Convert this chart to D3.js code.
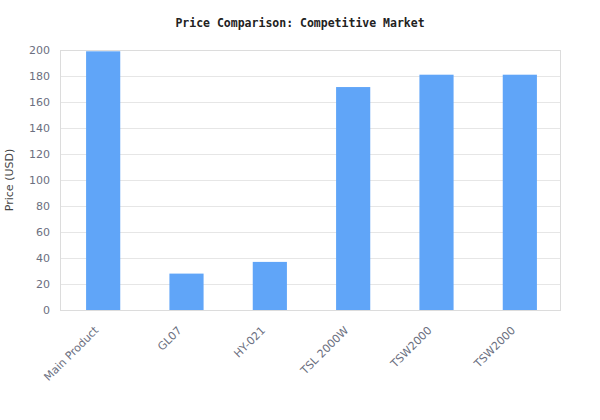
<!DOCTYPE html>
<html>
<head>
<meta charset="utf-8">
<script src="https://cdn.jsdelivr.net/npm/d3@7"></script>
<style>
  body { margin: 0; background: #fff; }
  svg { display: block; }
  .tick text { font-family: "DejaVu Sans", sans-serif; font-size: 11px; fill: #6b6f80; }
</style>
</head>
<body>
<div id="chart"></div>
<script>
var categories = ['Main Product', 'GL07', 'HY-021', 'TSL 2000W', 'TSW2000', 'TSW2000 '];
var labels = ['Main Product', 'GL07', 'HY-021', 'TSL 2000W', 'TSW2000', 'TSW2000'];
var prices = [199, 28, 37, 171.5, 181, 181];
var yTicks = [0, 20, 40, 60, 80, 100, 120, 140, 160, 180, 200];

var width = 600, height = 420;
var plot = { left: 60, right: 560, top: 50, bottom: 310 };

var svg = d3.select('#chart').append('svg')
  .attr('width', width)
  .attr('height', height);

// scales
var x = d3.scaleBand().domain(categories)
  .range([plot.left + 1.5, plot.right + 1.5])
  .paddingInner(0.59).paddingOuter(0.295);
var y = d3.scaleLinear().domain([0, 200]).range([plot.bottom, plot.top]);

// horizontal grid lines
svg.append('g')
  .attr('transform', 'translate(' + plot.left + ',0)')
  .call(d3.axisLeft(y).tickValues(yTicks).tickSize(-(plot.right - plot.left)).tickFormat(''))
  .call(function (g) { g.select('.domain').remove(); })
  .selectAll('line').attr('stroke', '#e6e6e6');

// frame
svg.append('rect')
  .attr('x', plot.left + 0.5).attr('y', plot.top + 0.5)
  .attr('width', plot.right - plot.left).attr('height', plot.bottom - plot.top)
  .attr('fill', 'none').attr('stroke', '#dcdcdc');

// bars
svg.selectAll('.bar')
  .data(prices)
  .enter().append('rect')
  .attr('class', 'bar')
  .attr('x', function (d, i) { return x(categories[i]); })
  .attr('y', function (d) { return y(d); })
  .attr('width', x.bandwidth())
  .attr('height', function (d) { return plot.bottom - y(d); })
  .attr('fill', '#60a5f8');

// y axis labels
svg.append('g')
  .attr('transform', 'translate(' + plot.left + ',0)')
  .call(d3.axisLeft(y).tickValues(yTicks).tickSize(0).tickPadding(10))
  .call(function (g) { g.select('.domain').remove(); });

// x axis labels, rotated 45deg
var xAxis = svg.append('g')
  .attr('transform', 'translate(0,' + plot.bottom + ')')
  .call(d3.axisBottom(x).tickSize(0).tickFormat(function (d, i) { return labels[i]; }))
  .call(function (g) { g.select('.domain').remove(); });
xAxis.selectAll('.tick text')
  .attr('text-anchor', 'end')
  .attr('dy', null)
  .attr('y', 0)
  .attr('transform', 'translate(-4,21) rotate(-45)');

// y axis title
svg.append('text')
  .attr('transform', 'translate(13,' + ((plot.top + plot.bottom) / 2) + ') rotate(-90)')
  .attr('text-anchor', 'middle')
  .attr('font-family', 'DejaVu Sans, sans-serif')
  .attr('font-size', 11)
  .attr('fill', '#444')
  .text('Price (USD)');

// title
svg.append('text')
  .attr('x', 300).attr('y', 27)
  .attr('text-anchor', 'middle')
  .attr('font-family', 'DejaVu Sans Mono, monospace')
  .attr('font-weight', 'bold')
  .attr('font-size', 11.5)
  .attr('fill', '#222')
  .text('Price Comparison: Competitive Market');
</script>
</body>
</html>
